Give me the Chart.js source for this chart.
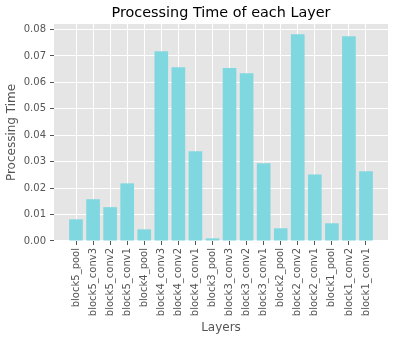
<!DOCTYPE html>
<html>
<head>
<meta charset="utf-8">
<script src="https://cdn.jsdelivr.net/npm/chart.js@4/dist/chart.umd.min.js"></script>
<style>
  html, body { margin: 0; padding: 0; background: #ffffff; }
  #wrap { width: 398px; height: 340px; position: relative; }
</style>
</head>
<body>
<div id="wrap"><canvas id="c" width="398" height="340"></canvas></div>
<script>
const layers = ["block5_pool","block5_conv3","block5_conv2","block5_conv1","block4_pool","block4_conv3","block4_conv2","block4_conv1","block3_pool","block3_conv3","block3_conv2","block3_conv1","block2_pool","block2_conv2","block2_conv1","block1_pool","block1_conv2","block1_conv1"];
const processingTime = [0.0082,0.0158,0.0128,0.0218,0.0044,0.0718,0.0657,0.0340,0.0010,0.0654,0.0635,0.0294,0.0048,0.0782,0.0252,0.0067,0.0775,0.0264];
const yTicks = [0.00,0.01,0.02,0.03,0.04,0.05,0.06,0.07,0.08];

const FONT = "'DejaVu Sans', sans-serif";
const TXT = '#555555';

const bgPlugin = {
  id: 'bg',
  afterLayout(chart) {
    const t = chart.titleBlock;
    const a = chart.chartArea;
    if (t && a) { t.left = a.left; t.right = a.right; t.width = a.right - a.left; }
  },
  beforeDraw(chart) {
    const {ctx, chartArea: a} = chart;
    ctx.save();
    ctx.fillStyle = '#e5e5e5';
    ctx.fillRect(a.left, a.top, a.right - a.left, a.bottom - a.top);
    ctx.restore();
  }
};

new Chart(document.getElementById('c'), {
  type: 'bar',
  data: {
    datasets: [{
      label: 'Processing Time',
      data: processingTime.map((v, i) => ({x: i, y: v})),
      backgroundColor: '#7fd7df',
      borderWidth: 0,
      barPercentage: 0.8,
      categoryPercentage: 1.0
    }]
  },
  options: {
    responsive: false,
    animation: false,
    devicePixelRatio: 1,
    layout: { padding: { left: 0, right: 10, top: 0, bottom: 0 } },
    plugins: {
      legend: { display: false },
      tooltip: { enabled: false },
      title: {
        display: true,
        text: 'Processing Time of each Layer',
        color: '#000000',
        font: { family: FONT, size: 14.4, weight: 'normal', lineHeight: 1.2 },
        padding: { top: 5, bottom: 1.7 }
      }
    },
    scales: {
      x: {
        type: 'linear',
        offset: false,
        min: -1.29,
        max: 18.29,
        afterBuildTicks(axis) { axis.ticks = layers.map((_, i) => ({value: i})); },
        afterFit(scale) { scale.height = 99; },
        border: { display: false },
        grid: { offset: false, color: '#ffffff', lineWidth: 1, tickColor: TXT, tickLength: 4, drawTicks: true },
        ticks: {
          color: TXT,
          font: { family: FONT, size: 10 },
          minRotation: 90,
          maxRotation: 90,
          autoSkip: false,
          padding: 3,
          callback: (v) => layers[v] !== undefined ? layers[v] : ''
        },
        title: {
          display: true,
          text: 'Layers',
          color: TXT,
          font: { family: FONT, size: 12 },
          padding: { top: 0, bottom: 5 }
        }
      },
      y: {
        min: 0,
        max: 0.0821,
        afterBuildTicks(axis) { axis.ticks = yTicks.map(v => ({value: v})); },
        afterFit(scale) { scale.width = 54; },
        border: { display: false },
        grid: { color: '#ffffff', lineWidth: 1, tickColor: TXT, tickLength: 4, drawTicks: true },
        ticks: {
          color: TXT,
          font: { family: FONT, size: 10 },
          padding: 4,
          callback: (v) => Number(v).toFixed(2)
        },
        title: {
          display: true,
          text: 'Processing Time',
          color: TXT,
          font: { family: FONT, size: 12 },
          padding: { top: 5, bottom: 0 }
        }
      }
    }
  },
  plugins: [bgPlugin]
});
</script>
</body>
</html>
